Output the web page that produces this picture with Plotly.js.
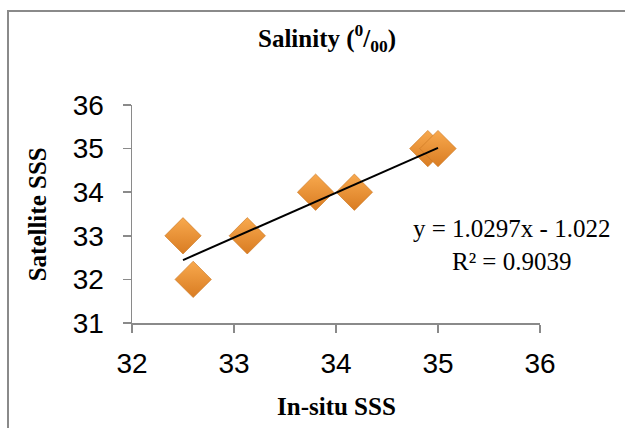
<!DOCTYPE html>
<html>
<head>
<meta charset="utf-8">
<script src="https://cdn.plot.ly/plotly-3.0.1.min.js"></script>
<style>
  html, body { margin: 0; padding: 0; background: #ffffff; overflow: hidden; }
  #frame { position: absolute; left: 7px; top: 10px; width: 700px; height: 500px;
           border-left: 2px solid #8a8a8a; border-top: 2px solid #8a8a8a; }
  #chart { position: absolute; left: 0; top: 0; width: 625px; height: 428px; }
</style>
</head>
<body>
<div id="frame"></div>
<div id="chart"></div>
<script>
// Data
const insituSSS    = [32.5, 32.6, 33.13, 33.8, 34.18, 34.9, 35.0];
const satelliteSSS = [33,   32,   33,    34,   34,    35,   35  ];
const fitSlope = 1.0297;
const fitIntercept = -1.022;
const fitRSquared = 0.9039;
const fitRange = [32.5, 35.0];
const xTicks = [32, 33, 34, 35, 36];
const yTicks = [31, 32, 33, 34, 35, 36];

const fitY = fitRange.map(x => fitSlope * x + fitIntercept);

const traces = [
  {
    x: insituSSS, y: satelliteSSS, mode: 'markers', type: 'scatter',
    marker: {
      symbol: 'diamond', size: 28, color: '#F8A94E',
      gradient: { type: 'vertical', color: '#D97C22' },
      line: { color: '#C8731F', width: 0.6 }
    },
    hoverinfo: 'x+y', showlegend: false
  },
  {
    x: fitRange, y: fitY, mode: 'lines', type: 'scatter',
    line: { color: '#000000', width: 2 },
    hoverinfo: 'skip', showlegend: false
  }
];

const eqText = 'y = ' + fitSlope.toFixed(4) + 'x - ' + Math.abs(fitIntercept).toFixed(3) +
               '<br>R² = ' + fitRSquared.toFixed(4);

const axisCommon = {
  showgrid: false, zeroline: false, showline: true,
  linecolor: '#8a8a8a', linewidth: 1.5,
  ticks: 'outside', ticklen: 8, tickwidth: 1.5, tickcolor: '#8a8a8a',
  tickfont: { family: 'Liberation Sans, Arial, sans-serif', size: 28, color: '#000' },
  tickmode: 'array'
};

const layout = {
  width: 625, height: 428,
  paper_bgcolor: 'rgba(0,0,0,0)', plot_bgcolor: 'rgba(0,0,0,0)',
  margin: { l: 132, r: 85, t: 105, b: 105 },
  title: {
    text: '<b>Salinity (<sup>0</sup>/<sub>00</sub>)</b>',
    font: { family: 'Liberation Serif, Times New Roman, serif', size: 25, color: '#000' },
    xref: 'paper', x: 0.478, xanchor: 'center',
    yref: 'container', y: 1 - 38 / 428, yanchor: 'middle'
  },
  xaxis: Object.assign({}, axisCommon, {
    range: [32, 36], tickvals: xTicks, ticktext: xTicks.map(String),
    ticklabelstandoff: 7
  }),
  yaxis: Object.assign({}, axisCommon, {
    range: [31, 36], tickvals: yTicks, ticktext: yTicks.map(String),
    ticklabelstandoff: 13
  }),
  annotations: [
    {
      text: eqText, xref: 'x', yref: 'y', x: 35.72, y: 32.8,
      showarrow: false, align: 'center',
      font: { family: 'Liberation Serif, Times New Roman, serif', size: 25, color: '#000' }
    },
    {
      text: '<b>Satellite SSS</b>', xref: 'paper', yref: 'paper',
      x: -0.232, y: 0.5, textangle: -90, showarrow: false,
      xanchor: 'center', yanchor: 'middle',
      font: { family: 'Liberation Serif, Times New Roman, serif', size: 25, color: '#000' }
    },
    {
      text: '<b>In-situ SSS</b>', xref: 'paper', yref: 'paper',
      x: 0.5, y: -0.385, showarrow: false,
      xanchor: 'center', yanchor: 'middle',
      font: { family: 'Liberation Serif, Times New Roman, serif', size: 25, color: '#000' }
    }
  ]
};

Plotly.newPlot('chart', traces, layout, { displayModeBar: false, staticPlot: true });
</script>
</body>
</html>
